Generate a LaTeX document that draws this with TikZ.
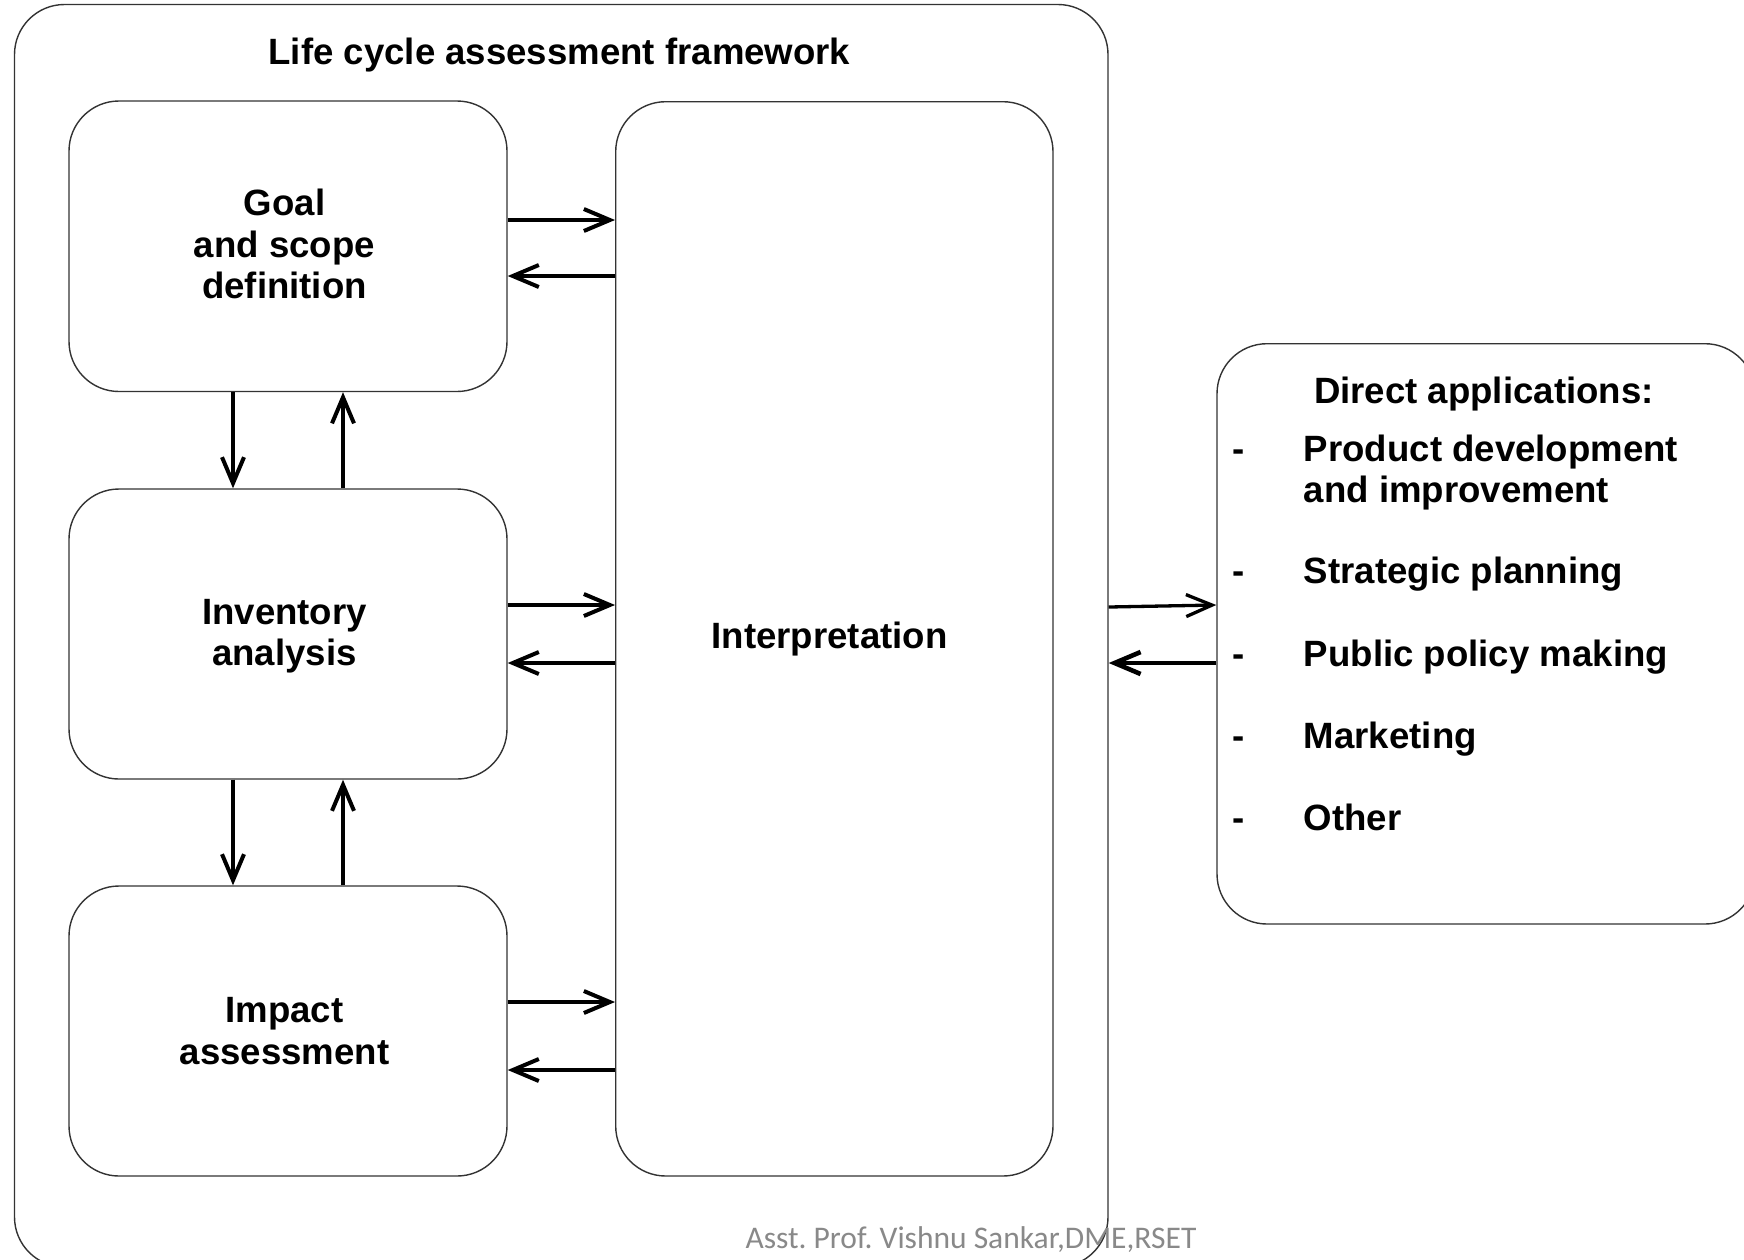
\documentclass[tikz,border=0pt]{standalone}
\usepackage{fontspec}
\setmainfont{Liberation Sans}
\newfontfamily\footfont{Carlito}
\usetikzlibrary{arrows.meta}
\newcommand\lcabig{\fontsize{18.3}{20.6}\selectfont\bfseries}
\newcommand\lcafoot{\footfont\fontsize{15.75}{18}\selectfont\frenchspacing}
\definecolor{footgray}{RGB}{137,137,137}
\begin{document}
\begin{tikzpicture}[x=0.5pt,y=-0.5pt,
  box/.style={draw=black!80, line width=0.7pt, rounded corners=25pt, inner sep=0pt},
  boxtext/.style={align=center, inner sep=0pt, font=\lcabig},
  arr/.style={line width=2pt, -{Straight Barb[length=13pt,width=11pt]}},
  item/.style={anchor=west, inner sep=0pt, text height=13.1pt, text depth=0pt, font=\lcabig},
]
\clip (0,0) rectangle (1744,1259);
\fill[white] (0,0) rectangle (1744,1259);

% outer framework box
\node[box, minimum width=546.75pt, minimum height=631.25pt] (lca) at (561.25,635.75) {};
\node[font=\lcabig, inner sep=0pt] (title) at (559.5,55) {Life cycle assessment framework};

% phase boxes
\node[box, minimum width=219pt, minimum height=145.25pt] (goal) at (288,246.25) {};
\node[boxtext] (goaltxt) at (284.5,244) {Goal\\and scope\\definition};
\node[box, minimum width=219pt, minimum height=145pt] (inv) at (288,634) {};
\node[boxtext] (invtxt) at (284.5,636.2) {Inventory\\analysis};
\node[box, minimum width=219pt, minimum height=145pt] (imp) at (288,1031) {};
\node[boxtext] (imptxt) at (284.5,1031) {Impact\\assessment};
\node[box, minimum width=218.65pt, minimum height=537.15pt] (interp) at (834.35,638.85) {};
\node[boxtext] (interptxt) at (829.5,639.5) {Interpretation};

% applications box
\node[box, minimum width=269pt, minimum height=290.15pt] (apps) at (1486,633.85) {};
\node[item] (apphead) at (1313.6,390) {Direct applications:};
\node[item] (d1) at (1232,448) {-};
\node[item] (i1) at (1303.5,448) {Product development};
\node[item] (i1b) at (1303.5,489) {and improvement};
\node[item] (d2) at (1232,570.6) {-};
\node[item] (i2) at (1303.5,570.6) {Strategic planning};
\node[item] (d3) at (1232,653) {-};
\node[item] (i3) at (1303.5,653) {Public policy making};
\node[item] (d4) at (1232,735) {-};
\node[item] (i4) at (1303.5,735) {Marketing};
\node[item] (d5) at (1232,817.5) {-};
\node[item] (i5) at (1303.5,817.5) {Other};

% connectors
\draw[arr] (goal.east |- 0,220) -- (interp.west |- 0,220);
\draw[arr] (interp.west |- 0,276) -- (goal.east |- 0,276);
\draw[arr] (inv.east |- 0,605) -- (interp.west |- 0,605);
\draw[arr] (interp.west |- 0,663) -- (inv.east |- 0,663);
\draw[arr] (imp.east |- 0,1002) -- (interp.west |- 0,1002);
\draw[arr] (interp.west |- 0,1070) -- (imp.east |- 0,1070);
\draw[arr] (goal.south -| 233,0) -- (inv.north -| 233,0);
\draw[arr] (inv.north -| 343,0) -- (goal.south -| 343,0);
\draw[arr] (inv.south -| 233,0) -- (imp.north -| 233,0);
\draw[arr] (imp.north -| 343,0) -- (inv.south -| 343,0);
\draw[arr, line width=1.65pt] (lca.east |- 0,607) -- (apps.west |- 0,605);
\draw[arr, line width=2.3pt] (apps.west |- 0,663) -- (lca.east |- 0,663);

% footer
\node[font=\lcafoot, text=footgray, inner sep=0pt] (foot) at (971,1240) {Asst. Prof. Vishnu Sankar,DME,RSET};
\end{tikzpicture}
\end{document}
